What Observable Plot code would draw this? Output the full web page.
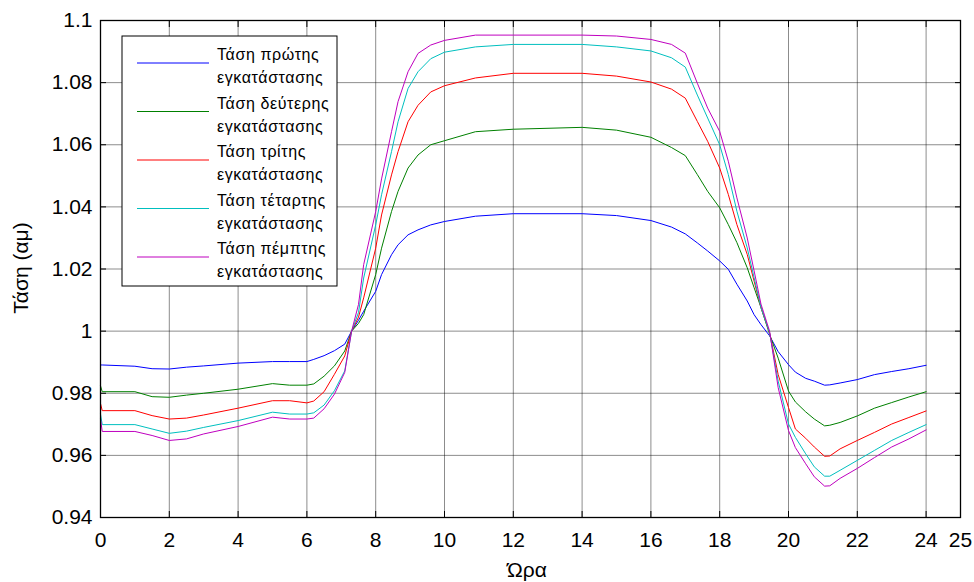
<!DOCTYPE html>
<html><head><meta charset="utf-8">
<script src="https://cdn.jsdelivr.net/npm/d3@7"></script>
<script src="https://cdn.jsdelivr.net/npm/@observablehq/plot@0.6"></script>
<style>body{margin:0;background:#fff} #chart{width:974px;height:582px}</style>
</head><body><div id="chart"></div>
<script>
const hours = [0, 0.05, 1, 1.5, 2, 2.5, 3, 4, 5, 5.5, 6, 6.2, 6.5, 6.8, 7.1, 7.3, 7.5, 7.65, 8, 8.17, 8.46, 8.65, 8.94, 9.23, 9.6, 10, 10.9, 12, 14, 15, 16, 16.6, 17, 17.35, 17.65, 18, 18.25, 18.5, 18.8, 19, 19.2, 19.45, 19.7, 20, 20.2, 20.5, 20.75, 21.05, 21.2, 21.5, 22, 22.5, 23, 23.5, 24];

const tension1 = [0.9891, 0.9891, 0.9887, 0.9879, 0.9878, 0.9884, 0.9888, 0.9897, 0.9902, 0.9902, 0.9902, 0.9909, 0.9921, 0.9937, 0.9958, 1.0, 1.0035, 1.0064, 1.0128, 1.0182, 1.0246, 1.0278, 1.031, 1.0326, 1.0342, 1.0353, 1.0370, 1.0378, 1.0378, 1.0372, 1.0356, 1.0335, 1.0313, 1.0284, 1.0258, 1.0226, 1.0199, 1.0151, 1.0097, 1.0053, 1.0021, 0.9985, 0.9934, 0.9892, 0.9868, 0.9848, 0.9839, 0.9826, 0.9827, 0.9833, 0.9844, 0.986, 0.987, 0.9879, 0.989];

const tension2 = [0.9824, 0.9805, 0.9805, 0.9789, 0.9787, 0.9794, 0.98, 0.9813, 0.9831, 0.9826, 0.9826, 0.9830, 0.9855, 0.9888, 0.9936, 1.0, 1.0025, 1.0053, 1.0182, 1.0267, 1.0385, 1.045, 1.0525, 1.0567, 1.06, 1.0613, 1.0642, 1.065, 1.0656, 1.0647, 1.0624, 1.0591, 1.0565, 1.0504, 1.045, 1.0397, 1.0343, 1.0285, 1.0204, 1.014, 1.0076, 0.999, 0.9913, 0.9807, 0.9772, 0.9740, 0.9717, 0.9695, 0.9697, 0.9706, 0.9727, 0.9752, 0.977, 0.9788, 0.9805];

const tension3 = [0.9767, 0.9744, 0.9744, 0.9728, 0.9717, 0.972, 0.973, 0.9752, 0.9776, 0.9776, 0.9769, 0.9775, 0.9805, 0.9861, 0.992, 1.0, 1.0045, 1.0107, 1.0267, 1.0374, 1.0503, 1.0578, 1.0674, 1.0727, 1.077, 1.0790, 1.0815, 1.083, 1.083, 1.0821, 1.0802, 1.0779, 1.0750, 1.0675, 1.0611, 1.0525, 1.044, 1.0343, 1.0247, 1.0161, 1.0076, 0.9995, 0.986, 0.9754, 0.9685, 0.9655, 0.9627, 0.9597, 0.9598, 0.9621, 0.9648, 0.9674, 0.9701, 0.9722, 0.9743];

const tension4 = [0.9733, 0.9699, 0.9699, 0.9685, 0.9671, 0.9678, 0.969, 0.9712, 0.9739, 0.9733, 0.9733, 0.9737, 0.9762, 0.9808, 0.9872, 1.0, 1.006, 1.0171, 1.0342, 1.0439, 1.0578, 1.0674, 1.0781, 1.0835, 1.0877, 1.0898, 1.0915, 1.0923, 1.0923, 1.0915, 1.0902, 1.088, 1.085, 1.076, 1.0686, 1.06, 1.0504, 1.0386, 1.0268, 1.0172, 1.0076, 0.9995, 0.9839, 0.9701, 0.9658, 0.9605, 0.9563, 0.9533, 0.9533, 0.9552, 0.9584, 0.9616, 0.9648, 0.9674, 0.9699];

const tension5 = [0.9717, 0.9677, 0.9677, 0.9664, 0.9648, 0.9653, 0.9669, 0.9693, 0.9723, 0.9717, 0.9717, 0.9720, 0.9750, 0.9797, 0.9867, 1.0, 1.0086, 1.0214, 1.0385, 1.049, 1.0642, 1.0739, 1.0835, 1.0894, 1.0921, 1.0936, 1.0953, 1.0953, 1.0953, 1.0950, 1.0939, 1.0923, 1.0895, 1.0798, 1.0718, 1.0643, 1.0547, 1.0429, 1.03, 1.0194, 1.0087, 1.0, 0.9818, 0.968, 0.9625, 0.9573, 0.9531, 0.9501, 0.9502, 0.9526, 0.9558, 0.9593, 0.9627, 0.9653, 0.9682];

const seriesFirst = ["Τάση πρώτης", "Τάση δεύτερης", "Τάση τρίτης", "Τάση τέταρτης", "Τάση πέμπτης"];
const seriesSecond = "εγκατάστασης";
const seriesColors = ["#0000ff", "#008000", "#ff0000", "#00bfbf", "#bf00bf"];

const xTicks = [0, 2, 4, 6, 8, 10, 12, 14, 16, 18, 20, 22, 24, 25];
const yTicks = [0.94, 0.96, 0.98, 1.0, 1.02, 1.04, 1.06, 1.08, 1.1];
const yTickLabels = ["0.94", "0.96", "0.98", "1", "1.02", "1.04", "1.06", "1.08", "1.1"];
const xLabel = "Ώρα";
const yLabel = "Τάση (αμ)";

const allSeries = [tension1, tension2, tension3, tension4, tension5];
const rows = [];
allSeries.forEach((arr, i) => hours.forEach((h, j) => rows.push({h, v: arr[j], s: seriesFirst[i]})));

const chart = Plot.plot({
  width: 974, height: 582,
  marginLeft: 100, marginRight: 14, marginTop: 20, marginBottom: 65,
  style: {fontFamily: "'Liberation Sans', Arial, sans-serif", fontSize: "21px", background: "#fff", color: "#000"},
  x: {domain: [0, 25]},
  y: {domain: [0.94, 1.1]},
  color: {domain: seriesFirst, range: seriesColors},
  marks: [
    Plot.gridX(xTicks.filter(t => t > 0 && t < 25), {stroke: "#000", strokeOpacity: 0.45}),
    Plot.gridY(yTicks.filter(t => t > 0.94 && t < 1.1), {stroke: "#000", strokeOpacity: 0.45}),
    Plot.axisX({ticks: xTicks, tickSize: -6, tickPadding: 21, label: null, tickFormat: d => String(d), fontSize: 21}),
    Plot.axisX({anchor: "top", ticks: xTicks, tickSize: -6, tickFormat: () => "", label: null}),
    Plot.axisY({ticks: yTicks, tickSize: -6, tickPadding: 14, label: null, tickFormat: d => yTickLabels[yTicks.indexOf(d)], fontSize: 21}),
    Plot.axisY({anchor: "right", ticks: yTicks, tickSize: -6, tickFormat: () => "", label: null}),
    Plot.line(rows, {x: "h", y: "v", z: "s", stroke: "s", strokeWidth: 1}),
    Plot.frame({stroke: "#000", strokeWidth: 1.3})
  ]
});
document.getElementById("chart").appendChild(chart);

const svg = d3.select(chart);
const font = "'Liberation Sans', Arial, sans-serif";
svg.append("text").attr("transform", "translate(28,268) rotate(-90)")
  .attr("text-anchor", "middle").attr("font-family", font).attr("font-size", 21).attr("fill", "#000").text(yLabel);
svg.append("text").attr("x", 527).attr("y", 577)
  .attr("text-anchor", "middle").attr("font-family", font).attr("font-size", 21).attr("fill", "#000").text(xLabel);

const lg = svg.append("g");
lg.append("rect").attr("x", 122).attr("y", 36).attr("width", 215).attr("height", 250)
  .attr("fill", "#fff").attr("stroke", "#000").attr("stroke-width", 1);
seriesFirst.forEach((name, i) => {
  const cy = 63 + i * 48.5;
  lg.append("line").attr("x1", 137).attr("x2", 209).attr("y1", cy).attr("y2", cy)
    .attr("stroke", seriesColors[i]).attr("stroke-width", 1);
  const t = lg.append("text").attr("text-anchor", "start").attr("font-family", font)
    .attr("font-size", 16).attr("letter-spacing", 0.6).attr("fill", "#000");
  t.append("tspan").attr("x", 217).attr("y", cy - 3).text(name);
  t.append("tspan").attr("x", 217).attr("y", cy + 20).text(seriesSecond);
});
</script>
</body></html>
